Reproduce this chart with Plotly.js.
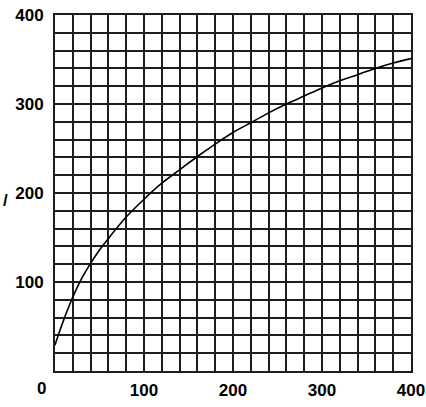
<!DOCTYPE html>
<html>
<head>
<meta charset="utf-8">
<script src="https://cdn.plot.ly/plotly-3.0.1.min.js"></script>
<style>
html,body{margin:0;padding:0;background:#fff;}
#chart{width:426px;height:407px;}
</style>
</head>
<body>
<div id="chart"></div>
<script>
const xValues = [0, 5, 10, 15, 20, 30, 40, 50, 60, 80, 100, 120, 140, 160, 180, 200, 220, 240, 260, 280, 300, 320, 340, 360, 380, 400];
const yValues = [29, 44, 58, 71, 83, 104, 121, 136, 149, 173, 193, 211, 226, 241, 255, 268, 279, 290, 300, 309, 318, 326, 333, 340, 346, 351];
const xTickVals = [100, 200, 300, 400];
const xTickText = ['100', '200', '300', '400'];
const yTickVals = [100, 200, 300, 400];
const yTickText = ['100', '200', '300', '400'];
const originLabel = '0';
const yTitle = '/';

const fontFamily = '"Liberation Sans", Arial, sans-serif';
const gridColor = '#1e1e1e';
const labelFont = { family: fontFamily, size: 17, color: '#000', weight: 'bold' };

const axisCommon = {
  range: [0, 400],
  showgrid: true,
  gridcolor: gridColor,
  gridwidth: 2,
  minor: { dtick: 20, tick0: 0, showgrid: true, gridcolor: gridColor, gridwidth: 2, ticks: '' },
  showline: true,
  linecolor: gridColor,
  linewidth: 2,
  mirror: true,
  zeroline: false,
  ticks: '',
  tickmode: 'array',
  tickfont: labelFont,
  ticklabeloverflow: 'allow',
  fixedrange: true
};

const data = [{
  x: xValues,
  y: yValues,
  type: 'scatter',
  mode: 'lines',
  line: { color: '#000', width: 1.6, shape: 'spline', smoothing: 1 },
  hoverinfo: 'skip'
}];

const layout = {
  width: 426,
  height: 407,
  margin: { l: 55, r: 15, t: 15, b: 36 },
  paper_bgcolor: '#fff',
  plot_bgcolor: '#fff',
  showlegend: false,
  xaxis: Object.assign({}, axisCommon, { tickvals: xTickVals, ticktext: xTickText, ticklabelstandoff: 3 }),
  yaxis: Object.assign({}, axisCommon, { tickvals: yTickVals, ticktext: yTickText, ticklabelstandoff: 6 }),
  annotations: [
    { text: originLabel, xref: 'paper', yref: 'paper', x: -0.039, y: -0.05, xanchor: 'center', yanchor: 'middle', showarrow: false, font: labelFont },
    { text: yTitle, xref: 'paper', yref: 'paper', x: -0.139, y: 0.48, xanchor: 'center', yanchor: 'middle', showarrow: false, font: labelFont }
  ]
};

Plotly.newPlot('chart', data, layout, { displayModeBar: false, staticPlot: true });
</script>
</body>
</html>
